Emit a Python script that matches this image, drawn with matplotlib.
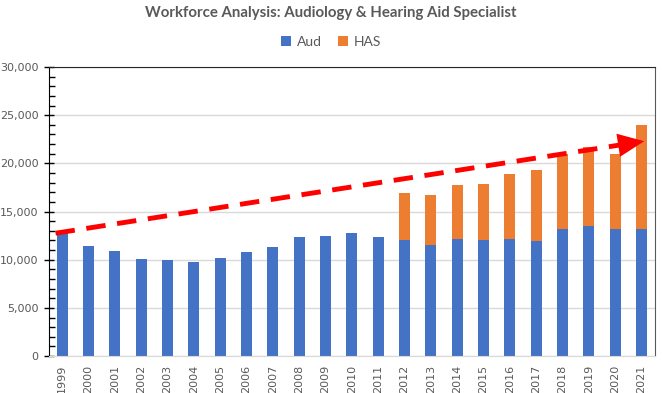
import numpy as np
import matplotlib
matplotlib.use('Agg')
import matplotlib.pyplot as plt
from matplotlib.ticker import MultipleLocator, FuncFormatter

plt.rcParams['font.family'] = ['Lato', 'DejaVu Sans']

years = [str(y) for y in range(1999, 2022)]
aud = [12850, 11450, 10900, 10100, 10000, 9750, 10200, 10800, 11300, 12400,
       12450, 12800, 12400, 12000, 11550, 12150, 12000, 12200, 11950, 13200,
       13550, 13200, 13150]
has = [0, 0, 0, 0, 0, 0, 0, 0, 0, 0,
       0, 0, 0, 4950, 5150, 5600, 5850, 6700, 7350, 7750,
       8150, 7800, 10850]
# trend arrow end points (x index, value)
trend_start = (-0.25, 12750)
trend_end = (22.1, 22300)

blue = '#4472C4'
orange = '#ED7D31'
gray = '#595959'

fig = plt.figure(figsize=(6.62, 3.93), dpi=100)
ax = fig.add_axes([0.074, 0.094, 0.915, 0.7355])

x = np.arange(len(years))
ax.bar(x, aud, width=0.42, color=blue, label='Aud', zorder=2)
ax.bar(x, has, width=0.42, bottom=aud, color=orange, label='HAS', zorder=2)

# dashed trend line + solid head
t = 0.96
mid = (trend_start[0] + t * (trend_end[0] - trend_start[0]),
       trend_start[1] + t * (trend_end[1] - trend_start[1]))
ax.plot([trend_start[0], mid[0]], [trend_start[1], mid[1]], color='#FF0000',
        lw=3.5, linestyle=(0, (4, 2.4)), solid_capstyle='butt', zorder=3)
ax.annotate('', xy=trend_end, xytext=mid,
            arrowprops=dict(arrowstyle='-|>,head_length=1.35,head_width=0.6',
                            mutation_scale=14, color='#FF0000', lw=0,
                            shrinkA=0, shrinkB=0),
            zorder=3)

ax.set_xlim(-0.5, 22.5)
ax.set_ylim(0, 30000)
ax.set_xticks(x)
ax.set_xticklabels(years, rotation=90, fontsize=8, color=gray, family='DejaVu Sans')
ax.tick_params(axis='x', length=0, pad=6)

ax.yaxis.set_major_locator(MultipleLocator(5000))
ax.yaxis.set_minor_locator(MultipleLocator(1000))
ax.yaxis.set_major_formatter(FuncFormatter(lambda v, p: f'{int(v):,}'))
ax.tick_params(axis='y', which='major', direction='inout', length=7, width=1,
               color='black', labelsize=8, labelcolor=gray, pad=4)
ax.tick_params(axis='y', which='minor', direction='in', length=4, width=1,
               color='black')
for lab in ax.get_yticklabels():
    lab.set_family('DejaVu Sans')

ax.grid(axis='y', color='#D9D9D9', lw=1, zorder=0)
ax.set_axisbelow(True)
ax.spines['left'].set_color('black')
ax.spines['top'].set_color('#262626')
ax.spines['right'].set_color('#595959')
ax.spines['bottom'].set_color('#D9D9D9')

fig.suptitle('Workforce Analysis: Audiology & Hearing Aid Specialist',
             y=0.985, fontsize=10.8, fontweight='bold', color=gray)
fig.legend(loc='center', bbox_to_anchor=(0.5, 0.893), ncol=2, frameon=False,
           fontsize=10, labelcolor=gray, handlelength=0.7, handleheight=0.7,
           handletextpad=0.4, columnspacing=1.2)

fig.savefig('out.png', dpi=100)
